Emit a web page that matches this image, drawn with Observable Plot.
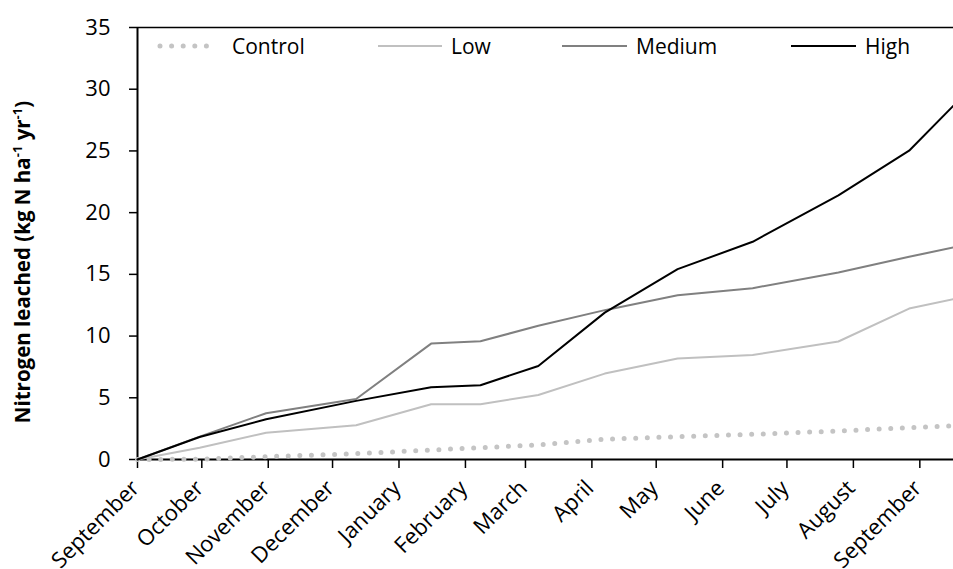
<!DOCTYPE html>
<html>
<head>
<meta charset="utf-8">
<script src="https://cdn.jsdelivr.net/npm/d3@7"></script>
<script src="https://cdn.jsdelivr.net/npm/@observablehq/plot@0.6"></script>
<style>
  html, body { margin: 0; padding: 0; background: #fff; }
  #chart { position: relative; width: 953px; height: 569px; }
</style>
</head>
<body>
<div id="chart"></div>
<script>
// ---- data ----
const dates = ["2012-09-01","2012-09-30","2012-10-31","2012-12-12","2013-01-16","2013-02-08",
               "2013-03-07","2013-04-07","2013-05-11","2013-06-15","2013-07-25","2013-08-27","2013-09-16T17:00"];
const control = [0, 0.02, 0.23, 0.47, 0.77, 0.96, 1.18, 1.64, 1.85, 2.04, 2.31, 2.58, 2.72];
const low     = [0, 0.96, 2.17, 2.77, 4.47, 4.47, 5.23, 6.96, 8.18, 8.47, 9.56, 12.23, 12.99];
const medium  = [0, 1.85, 3.75, 4.90, 9.39, 9.58, 10.83, 12.10, 13.30, 13.88, 15.15, 16.42, 17.18];
const high    = [0, 1.82, 3.26, 4.75, 5.86, 6.02, 7.58, 11.90, 15.42, 17.64, 21.40, 25.02, 28.67];

const seriesNames = ["Control", "Low", "Medium", "High"];
const tickDates = ["2012-09-01","2012-10-01","2012-11-01","2012-12-01","2013-01-01","2013-02-01",
                   "2013-03-01","2013-04-01","2013-05-01","2013-06-01","2013-07-01","2013-08-01","2013-09-01"];
const tickLabels = ["September","October","November","December","January","February",
                    "March","April","May","June","July","August","September"];
const yTicks = [0, 5, 10, 15, 20, 25, 30, 35];
const yLabel = "Nitrogen leached (kg N ha";

// ---- build ----
const parse = s => new Date(s + (s.length === 10 ? "T00:00Z" : "Z"));
const X = dates.map(parse);
const rows = (vals) => vals.map((v, i) => ({date: X[i], value: v}));
const ticks = tickDates.map(parse);

const styles = {
  Control: {stroke: "#c4c4c4", strokeWidth: 5, strokeDasharray: "0 11.6", strokeLinecap: "round"},
  Low:     {stroke: "#c0c0c0", strokeWidth: 2},
  Medium:  {stroke: "#808080", strokeWidth: 2},
  High:    {stroke: "#000000", strokeWidth: 2}
};
const seriesData = {Control: control, Low: low, Medium: medium, High: high};

const FONT = "Open Sans, sans-serif";

const svg = Plot.plot({
  width: 953,
  height: 569,
  marginLeft: 137,
  marginRight: 0,
  marginTop: 27,
  marginBottom: 110,
  style: {fontFamily: FONT, fontSize: "21px", color: "#000", background: "#fff"},
  x: {type: "utc", domain: [X[0], X[X.length - 1]]},
  y: {domain: [0, 35]},
  marks: [
    Plot.axisY({ticks: yTicks, tickSize: 8, tickPadding: 19, label: null, fontSize: 22, strokeWidth: 1.5}),
    Plot.axisX({ticks: ticks, tickSize: 9, tickFormat: () => "", label: null, strokeWidth: 1.5}),
    Plot.ruleY([0], {stroke: "#000", strokeWidth: 2}),
    Plot.ruleY([35], {stroke: "#000", strokeWidth: 1.5}),
    Plot.ruleX([X[0]], {stroke: "#000", strokeWidth: 2}),
    ...seriesNames.map(name => Plot.line(rows(seriesData[name]), {x: "date", y: "value", ...styles[name]})),
    Plot.text(ticks, {x: d => d, frameAnchor: "bottom", text: (d, i) => tickLabels[i],
      rotate: -45, textAnchor: "end", lineAnchor: "bottom", dx: 3, dy: 30, fontSize: 22})
  ]
});

document.getElementById("chart").appendChild(svg);

// ---- legend inside the plot ----
const s = d3.select(svg);
const legendItems = [
  {name: "Control", x1: 157, x2: 220, tx: 232},
  {name: "Low", x1: 378, x2: 442, tx: 451},
  {name: "Medium", x1: 562, x2: 627, tx: 636},
  {name: "High", x1: 791, x2: 856, tx: 865}
];
const lg = s.append("g").attr("font-family", FONT).attr("font-size", 21).attr("text-anchor", "start");
legendItems.forEach(it => {
  const st = styles[it.name];
  const inset = it.name === "Control" ? 3 : 0;
  lg.append("line").attr("x1", it.x1 + inset).attr("x2", it.x2 - inset)
    .attr("y1", 46).attr("y2", 46)
    .attr("stroke", st.stroke).attr("stroke-width", st.strokeWidth)
    .attr("stroke-dasharray", st.strokeDasharray || null)
    .attr("stroke-linecap", st.strokeLinecap || null);
  lg.append("text").attr("x", it.tx).attr("y", 46).attr("dy", "0.36em")
    .attr("text-anchor", "start").attr("fill", "#000").text(it.name);
});

// ---- y axis title with superscripts ----
const yt = s.append("text")
  .attr("transform", "translate(30,262) rotate(-90)")
  .attr("text-anchor", "middle")
  .attr("font-family", FONT).attr("font-size", 20.5).attr("font-weight", "bold").attr("fill", "#000");
yt.append("tspan").text(yLabel);
yt.append("tspan").attr("font-size", 13).attr("dy", -8).text("-1");
yt.append("tspan").attr("dy", 8).text(" yr");
yt.append("tspan").attr("font-size", 13).attr("dy", -8).text("-1");
yt.append("tspan").attr("dy", 8).text(")");
</script>
</body>
</html>
